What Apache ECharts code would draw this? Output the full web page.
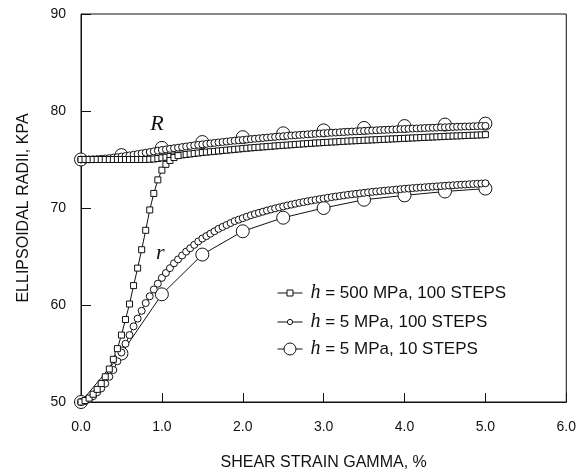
<!DOCTYPE html>
<html>
<head>
<meta charset="utf-8">
<script src="https://cdn.jsdelivr.net/npm/echarts@6/dist/echarts.min.js"></script>
<style>
  html, body { margin: 0; padding: 0; background: #fff; }
  #main { width: 579px; height: 476px; }
</style>
</head>
<body>
<div id="main"></div>
<script>
// strain increment of each run, %
const fineStep = 0.05;   // 100 steps
const coarseStep = 0.5;  // 10 steps

// h = 500 MPa, 100 steps : R branch and r branch
const squaresR = [
  75.0, 75.0, 75.0, 75.0, 75.0, 75.0, 75.0, 75.0, 75.0, 75.0,
  75.0, 75.0, 75.0, 75.0, 75.0, 75.0, 75.0, 75.02, 75.05, 75.1,
  75.17, 75.23, 75.3, 75.36, 75.42, 75.47, 75.52, 75.57, 75.62, 75.67,
  75.72, 75.76, 75.8, 75.84, 75.88, 75.92, 75.96, 76.0, 76.04, 76.08,
  76.12, 76.16, 76.2, 76.23, 76.26, 76.3, 76.33, 76.36, 76.4, 76.43,
  76.46, 76.49, 76.52, 76.55, 76.58, 76.61, 76.64, 76.67, 76.7, 76.72,
  76.75, 76.77, 76.8, 76.82, 76.85, 76.87, 76.9, 76.92, 76.94, 76.96,
  76.98, 77.0, 77.02, 77.04, 77.06, 77.08, 77.1, 77.12, 77.14, 77.16,
  77.18, 77.2, 77.22, 77.24, 77.26, 77.28, 77.3, 77.32, 77.34, 77.36,
  77.38, 77.4, 77.42, 77.43, 77.45, 77.47, 77.49, 77.5, 77.52, 77.54,
  77.56
];
const squaresr = [
  50.0, 50.15, 50.4, 50.8, 51.3, 51.9, 52.6, 53.4, 54.4, 55.5,
  56.9, 58.5, 60.1, 62.0, 63.8, 65.7, 67.7, 69.8, 71.5, 72.9,
  73.9, 74.5, 74.9, 75.2, 75.4
];

// h = 5 MPa, 100 steps
const smallR = [
  75.0, 75.0, 75.01, 75.02, 75.04, 75.07, 75.1, 75.14, 75.19, 75.24,
  75.3, 75.36, 75.42, 75.49, 75.56, 75.63, 75.7, 75.77, 75.84, 75.91,
  75.98, 76.04, 76.1, 76.16, 76.22, 76.28, 76.34, 76.4, 76.46, 76.51,
  76.56, 76.61, 76.66, 76.71, 76.76, 76.8, 76.85, 76.9, 76.94, 76.98,
  77.02, 77.06, 77.1, 77.14, 77.18, 77.22, 77.26, 77.3, 77.33, 77.37,
  77.4, 77.44, 77.47, 77.5, 77.53, 77.56, 77.59, 77.62, 77.65, 77.68,
  77.71, 77.73, 77.76, 77.78, 77.81, 77.83, 77.86, 77.88, 77.9, 77.92,
  77.95, 77.97, 77.99, 78.01, 78.03, 78.05, 78.07, 78.09, 78.11, 78.13,
  78.15, 78.17, 78.19, 78.2, 78.22, 78.24, 78.26, 78.27, 78.29, 78.31,
  78.32, 78.34, 78.35, 78.37, 78.38, 78.4, 78.41, 78.43, 78.44, 78.46,
  78.47
];
const smallr = [
  50.0, 50.1, 50.3, 50.6, 51.0, 51.4, 51.9, 52.6, 53.3, 54.2,
  55.1, 56.0, 56.9, 57.8, 58.6, 59.4, 60.2, 60.9, 61.6, 62.2,
  62.8, 63.3, 63.8, 64.3, 64.7, 65.1, 65.5, 65.85, 66.2, 66.55,
  66.85, 67.1, 67.35, 67.6, 67.85, 68.05, 68.25, 68.45, 68.65, 68.8,
  68.95, 69.1, 69.25, 69.38, 69.5, 69.62, 69.74, 69.85, 69.96, 70.06,
  70.16, 70.26, 70.35, 70.44, 70.53, 70.61, 70.69, 70.77, 70.84, 70.91,
  70.98, 71.05, 71.12, 71.18, 71.24, 71.3, 71.36, 71.41, 71.46, 71.51,
  71.56, 71.61, 71.66, 71.7, 71.74, 71.78, 71.82, 71.86, 71.9, 71.94,
  71.98, 72.01, 72.05, 72.08, 72.11, 72.14, 72.17, 72.2, 72.23, 72.26,
  72.29, 72.32, 72.34, 72.37, 72.4, 72.42, 72.45, 72.47, 72.5, 72.52,
  72.55
];

// h = 5 MPa, 10 steps
const bigR = [75.0, 75.45, 76.2, 76.8, 77.3, 77.7, 78.0, 78.25, 78.45, 78.6, 78.7];
const bigr = [50.0, 55.0, 61.1, 65.2, 67.6, 69.0, 70.0, 70.85, 71.3, 71.7, 72.0];

const names = ['h = 500 MPa, 100 STEPS', 'h = 5 MPa, 100 STEPS', 'h = 5 MPa, 10 STEPS'];

const ink = '#111';
const sans = 'Liberation Sans';
const serif = 'Liberation Serif';

function pairs(vals, step) {
  return vals.map((v, i) => [+(i * step).toFixed(2), v]);
}

function run(name, vals, step, symbol, size) {
  return {
    name: name,
    type: 'line',
    data: pairs(vals, step),
    symbol: symbol,
    symbolSize: size,
    showAllSymbol: true,
    clip: false,
    lineStyle: { color: ink, width: 1 },
    itemStyle: { color: '#fff', borderColor: ink, borderWidth: 1 },
    emphasis: { disabled: true },
    silent: true
  };
}

// one legend per entry so each icon keeps its own marker size
function legendRow(name, top, h) {
  return {
    data: [name],
    left: 272,
    top: top,
    itemWidth: 25,
    itemHeight: h,
    selectedMode: false,
    lineStyle: { width: 1, color: ink },
    itemStyle: { borderWidth: 1, borderColor: ink, color: '#fff' },
    formatter: n => '{i|h}' + n.slice(1),
    textStyle: {
      fontFamily: sans, fontSize: 17, color: ink, padding: [0, 0, 0, 3],
      rich: { i: { fontFamily: serif, fontStyle: 'italic', fontSize: 20, color: ink } }
    }
  };
}

const sqRSeries = run(names[0], squaresR, fineStep, 'rect', 6);
sqRSeries.markPoint = {
  symbol: 'circle', symbolSize: 1, itemStyle: { color: 'rgba(0,0,0,0)' },
  label: { show: true, position: 'inside', fontFamily: serif, fontStyle: 'italic', fontSize: 22, color: ink },
  data: [
    { coord: [0.94, 78.6], label: { formatter: 'R' } },
    { coord: [0.98, 65.3], label: { formatter: 'r' } }
  ]
};

const option = {
  animation: false,
  grid: { left: 81, right: 6, top: 14, bottom: 72, show: true, borderColor: ink, borderWidth: 1 },
  legend: [
    legendRow(names[0], 278, 7.5),
    legendRow(names[1], 307, 6.5),
    legendRow(names[2], 334, 15)
  ],
  xAxis: {
    type: 'value', min: 0, max: 6, interval: 1,
    name: 'SHEAR STRAIN GAMMA, %', nameLocation: 'middle', nameGap: 53,
    nameTextStyle: { fontFamily: sans, fontSize: 16, color: ink },
    axisLine: { lineStyle: { color: ink, width: 1 } },
    axisTick: { inside: true, length: 9, lineStyle: { color: ink } },
    axisLabel: { margin: 18, fontFamily: sans, fontSize: 14, color: ink, formatter: v => v.toFixed(1) },
    splitLine: { show: false }
  },
  yAxis: {
    type: 'value', min: 50, max: 90, interval: 10,
    name: 'ELLIPSOIDAL RADII, KPA', nameLocation: 'middle', nameGap: 49,
    nameTextStyle: { fontFamily: sans, fontSize: 16, color: ink },
    axisLine: { show: true, lineStyle: { color: ink, width: 1 } },
    axisTick: { show: true, inside: true, length: 10, lineStyle: { color: ink } },
    axisLabel: { margin: 15, fontFamily: sans, fontSize: 14, color: ink },
    splitLine: { show: false }
  },
  series: [
    run(names[2], bigR, coarseStep, 'circle', 13),
    run(names[2], bigr, coarseStep, 'circle', 13),
    run(names[1], smallR, fineStep, 'circle', 7),
    run(names[1], smallr, fineStep, 'circle', 7),
    sqRSeries,
    run(names[0], squaresr, fineStep, 'rect', 6)
  ]
};

const chart = echarts.init(document.getElementById('main'));
chart.setOption(option);
</script>
</body>
</html>
